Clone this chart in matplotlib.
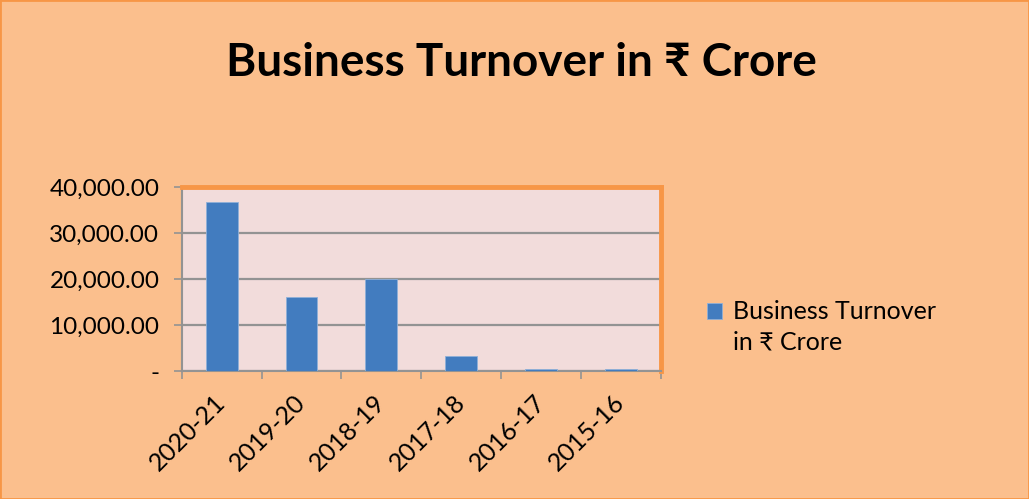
import matplotlib.pyplot as plt
from matplotlib.patches import Rectangle

years = ['2020-21', '2019-20', '2018-19', '2017-18', '2016-17', '2015-16']
turnover = [36700, 16150, 20000, 3250, 380, 380]
yticks = [0, 10000, 20000, 30000, 40000]
ytick_labels = ['-', '10,000.00', '20,000.00', '30,000.00', '40,000.00']

fam = ['Lato', 'DejaVu Sans']
plt.rcParams['font.family'] = fam

bg = '#fbbf8d'
plot_bg = '#f2dcdb'
bar_col = '#427cbf'
orange = '#f79646'
grey = '#939393'

fig = plt.figure(figsize=(10.29, 4.99), dpi=100, facecolor=bg)
fig.patches.append(Rectangle((0, 0), 1, 1, transform=fig.transFigure,
                             fill=False, edgecolor=orange, lw=2))

ax = fig.add_axes([0.1765, 0.2565, 0.466, 0.3685])
ax.set_facecolor(plot_bg)
x = range(len(years))
bars = ax.bar(x, turnover, width=0.4, color=bar_col, edgecolor='#8fb0d8',
              lw=0.6, zorder=3)
ax.set_xlim(-0.5, len(years) - 0.5)
ax.set_ylim(0, 40000)
ax.set_yticks(yticks)
ax.set_yticklabels(ytick_labels, fontsize=17.5)
ax.yaxis.grid(True, color=grey, lw=1.6, zorder=1)
ax.set_xticks([i - 0.5 for i in range(len(years) + 1)])
ax.set_xticklabels([])
ax.set_xticks(list(x), minor=True)
ax.set_xticklabels(years, minor=True, rotation=45, ha='right', va='center',
                   rotation_mode='anchor', fontsize=18)
ax.tick_params(axis='x', which='minor', length=0, pad=20)
ax.tick_params(axis='x', which='major', length=6, color=grey, width=1.2)
ax.tick_params(axis='y', length=6, color=grey, width=1.2, pad=10)

for s in ['top', 'right']:
    ax.spines[s].set_color(orange)
    ax.spines[s].set_linewidth(3.5)
ax.spines['left'].set_color(grey)
ax.spines['left'].set_linewidth(1.5)
ax.spines['bottom'].set_color(grey)
ax.spines['bottom'].set_linewidth(1.5)

fig.text(0.507, 0.873, 'Business Turnover in ₹ Crore', ha='center', va='center',
         fontsize=33, fontweight='bold', family=fam)

blank = Rectangle((0, 0), 1, 1, visible=False)
leg = fig.legend([bars, blank], ['Business Turnover', 'in ₹ Crore'],
                 loc='upper left', bbox_to_anchor=(0.677, 0.418), frameon=False,
                 fontsize=18, handlelength=0.6, handleheight=0.6,
                 handletextpad=0.45, labelspacing=0.3, borderaxespad=0)

fig.savefig('out.png', dpi=100, facecolor=bg)
